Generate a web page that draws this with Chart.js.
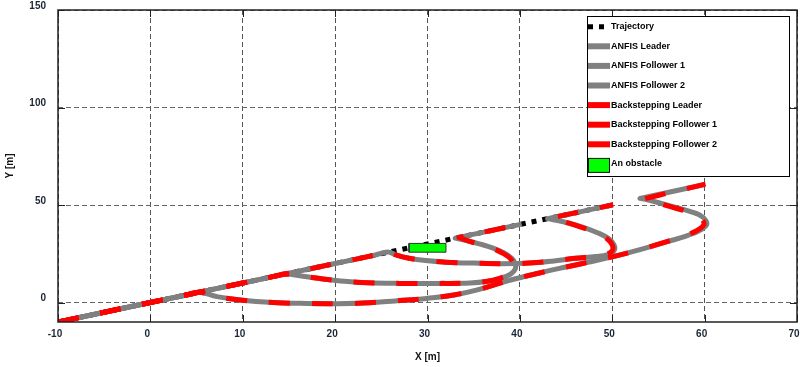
<!DOCTYPE html>
<html>
<head>
<meta charset="utf-8">
<script src="https://cdn.jsdelivr.net/npm/chart.js@4.4.1/dist/chart.umd.min.js"></script>
<style>
  html, body { margin: 0; padding: 0; background: #fff; }
  #wrap { width: 800px; height: 367px; }
</style>
</head>
<body>
<div id="wrap"><canvas id="chartPaths" width="800" height="367"></canvas></div>
<script>
const xTicks = [-10, 0, 10, 20, 30, 40, 50, 60, 70];
const yTicks = [0, 50, 100, 150];

const seriesNames = [
  'Trajectory', 'ANFIS Leader', 'ANFIS Follower 1', 'ANFIS Follower 2',
  'Backstepping Leader', 'Backstepping Follower 1', 'Backstepping Follower 2', 'An obstacle'
];

// desired path (y = x)
const trajectory = [[-10, -10], [50, 50]];

// ANFIS paths
const anfisLeader = [
  [-10, -10], [0, 0], [4, 4], [5.3, 5.3], [10, 10], [13.5, 13.5], [14.6, 14.6], [20, 20], [24.3, 24.3],
  [25.7, 25.9], [26.6, 24.4], [28, 22.7], [29.8, 21.5], [32, 20.7], [35, 20.2], [38, 19.9], [41, 20.2],
  [43.5, 21.2], [46, 22.7], [48.2, 23.6], [49.5, 24.6], [50.2, 26.6], [50.2, 29.5], [49.6, 32.8],
  [48.4, 35.8], [46.7, 38.8], [44.7, 41.4], [43, 43], [43, 43], [46.5, 46.5], [50, 50]
];
const anfisFollower1 = [
  [-10, -10], [0, 0], [4, 4], [5.3, 5.3], [10, 10], [13.5, 13.5], [14.6, 14.6], [16.5, 13.5],
  [18.7, 12.1], [21, 10.9], [23.5, 10.1], [27, 9.8], [31, 9.8], [34.6, 10], [36.5, 10.9], [37.9, 12.4],
  [39, 14.6], [39.5, 17.2], [39.5, 20], [39.1, 22.8], [38.3, 25.4], [37.1, 27.9], [35.6, 30.1],
  [34.2, 31.8], [33, 33], [33, 33], [36.6, 36.6], [40.2, 40.2]
];
const anfisFollower2 = [
  [-10, -10], [0, 0], [4, 4], [5.3, 5.3], [7.2, 3], [9.7, 1.3], [13.3, 0], [17, -0.5], [20, -0.6],
  [23, -0.3], [26.5, 0.8], [29.9, 2.1], [33, 4], [35.4, 6.5], [38.6, 11], [42, 15], [45, 18.2],
  [48.6, 21.9], [52.2, 26.1], [55.9, 31.1], [58.8, 35.5], [60.2, 39.7], [59.8, 43.8], [58.4, 46.7],
  [55.9, 50], [53.8, 52.7], [53, 53.4], [53, 53.4], [56.5, 56.9], [60, 60.5]
];

// Backstepping paths
const backLeader = [
  [-10, -10], [0, 0], [4, 4], [5.3, 5.3], [10, 10], [13.5, 13.5], [14.6, 14.6], [20, 20], [24.3, 24.3],
  [25.7, 25.9], [26.6, 24.4], [28, 22.7], [29.8, 21.5], [32, 20.7], [35, 20.2], [38, 19.9], [41, 20.2],
  [43.5, 21.2], [46, 22.7], [48.2, 23.6], [49.4, 24.7], [50, 26.6], [50, 29.5], [49.4, 32.8],
  [48.2, 35.8], [46.6, 38.7], [44.9, 41.3], [43.4, 43.4], [43.4, 43.4], [46.7, 46.7], [50.1, 50.1]
];
const backFollower1 = [
  [-10, -10], [0, 0], [4, 4], [5.3, 5.3], [10, 10], [13.5, 13.5], [14.6, 14.6], [16.5, 13.5],
  [18.7, 12.1], [21, 10.9], [23.5, 10.1], [27, 9.8], [31, 9.8], [34.6, 10], [36.5, 10.9], [37.8, 12.4],
  [38.9, 14.6], [39.3, 17.2], [39.3, 20], [38.9, 22.8], [38.1, 25.4], [37, 27.8], [35.6, 29.9],
  [34.4, 31.6], [33.4, 33.4], [33.4, 33.4], [36.8, 36.8], [40.3, 40.3]
];
const backFollower2 = [
  [-10, -10], [0, 0], [4, 4], [5.3, 5.3], [7.2, 3], [9.7, 1.3], [13.3, 0], [17, -0.5], [20, -0.6],
  [23, -0.3], [26.5, 0.8], [29.9, 2.1], [33, 4], [35.4, 6.5], [38.6, 11], [42, 15], [45, 18.2],
  [48.6, 21.9], [52.2, 26.1], [55.8, 31.1], [58.6, 35.6], [59.9, 39.8], [59.5, 43.7], [58.1, 46.6],
  [55.8, 49.8], [54, 52.4], [53.4, 53.1], [53.4, 53.1], [56.7, 56.9], [60.1, 60.7]
];

// obstacle outline
const obstacle = [[28, 25.8], [32, 25.8], [32, 30.3], [28, 30.3], [28, 25.8]];

const family = "'Liberation Sans', Arial, sans-serif";
const toPoints = arr => arr.map(p => ({ x: p[0], y: p[1] }));

function pathSet(name, data, color, dash, order) {
  return {
    label: name,
    data: toPoints(data),
    showLine: true,
    borderColor: color,
    backgroundColor: color,
    borderWidth: 5,
    borderDash: dash,
    borderCapStyle: 'butt',
    borderJoinStyle: 'round',
    tension: 0.4,
    pointRadius: 0,
    pointHoverRadius: 0,
    order: order
  };
}

const datasets = [
  Object.assign(pathSet(seriesNames[0], trajectory, '#000000', [5, 6], 10), { tension: 0 }),
  pathSet(seriesNames[1], anfisLeader, '#808080', [], 7),
  pathSet(seriesNames[2], anfisFollower1, '#808080', [], 6),
  pathSet(seriesNames[3], anfisFollower2, '#808080', [], 5),
  pathSet(seriesNames[4], backLeader, '#ff0000', [21, 22], 4),
  pathSet(seriesNames[5], backFollower1, '#ff0000', [21, 22], 3),
  pathSet(seriesNames[6], backFollower2, '#ff0000', [21, 22], 2),
  {
    label: seriesNames[7],
    data: toPoints(obstacle),
    showLine: true,
    fill: 'shape',
    borderColor: '#333333',
    backgroundColor: '#00ff00',
    borderWidth: 1,
    tension: 0,
    pointRadius: 0,
    order: 0
  }
];

// plot frame + small solid tick stubs
const framePlugin = {
  id: 'framePlugin',
  afterDatasetsDraw(chart) {
    const { ctx, chartArea: a, scales } = chart;
    ctx.save();
    ctx.strokeStyle = '#222';
    ctx.lineWidth = 1;
    ctx.beginPath();
    yTicks.forEach(v => {
      const py = Math.round(scales.y.getPixelForValue(v)) + 0.5;
      ctx.moveTo(a.left, py); ctx.lineTo(a.left + 7, py);
      ctx.moveTo(a.right, py); ctx.lineTo(a.right - 7, py);
    });
    xTicks.forEach(v => {
      const px = Math.round(scales.x.getPixelForValue(v)) + 0.5;
      ctx.moveTo(px, a.bottom); ctx.lineTo(px, a.bottom - 7);
      ctx.moveTo(px, a.top); ctx.lineTo(px, a.top + 7);
    });
    ctx.stroke();
    ctx.lineWidth = 1.5;
    ctx.strokeRect(a.left, a.top, a.right - a.left, a.bottom - a.top);
    ctx.restore();
  }
};

// boxed legend inside the plot
const boxLegend = {
  id: 'boxLegend',
  afterDraw(chart) {
    const ctx = chart.ctx;
    const x0 = 587, y0 = 16, w = 202, h = 160;
    ctx.save();
    ctx.fillStyle = '#fff';
    ctx.fillRect(x0, y0, w, h);
    ctx.strokeStyle = '#000';
    ctx.lineWidth = 1;
    ctx.strokeRect(x0 + 0.5, y0 + 0.5, w, h);
    ctx.font = 'bold 9px ' + family;
    ctx.textBaseline = 'middle';
    chart.data.datasets.forEach((ds, i) => {
      const cy = y0 + 10.7 + i * 19.6;
      if (i === 0) {
        ctx.strokeStyle = ds.borderColor;
        ctx.lineWidth = 5;
        ctx.setLineDash(ds.borderDash);
        ctx.beginPath();
        ctx.moveTo(588, cy); ctx.lineTo(606, cy);
        ctx.stroke();
        ctx.setLineDash([]);
      } else if (ds.fill === 'shape') {
        ctx.fillStyle = ds.backgroundColor;
        ctx.fillRect(588.5, cy - 5.5, 21, 14);
        ctx.strokeStyle = '#111';
        ctx.lineWidth = 1;
        ctx.strokeRect(588.5, cy - 5.5, 21, 14);
      } else {
        ctx.fillStyle = ds.borderColor;
        ctx.fillRect(588, cy - 3, 22, 6);
      }
      ctx.fillStyle = '#000';
      ctx.fillText(ds.label, 611, cy);
    });
    ctx.restore();
  }
};

const tickFont = { family: family, size: 10, weight: 'bold' };
const titleFont = { family: family, size: 10, weight: 'bold' };

new Chart(document.getElementById('chartPaths').getContext('2d'), {
  type: 'scatter',
  data: { datasets: datasets },
  options: {
    responsive: false,
    animation: false,
    layout: { padding: { left: 0, right: 3, top: 10, bottom: 0 } },
    plugins: {
      legend: { display: false },
      tooltip: { enabled: false }
    },
    scales: {
      x: {
        type: 'linear',
        min: -10,
        max: 70,
        afterBuildTicks: s => { s.ticks = xTicks.map(v => ({ value: v })); },
        afterFit: s => { s.height = 45; s.paddingLeft = 0; s.paddingRight = 0; },
        grid: { color: '#555', lineWidth: 1, drawTicks: false },
        border: { display: false, dash: [5, 3] },
        ticks: {
          font: tickFont, color: '#1b2535', padding: 6, labelOffset: -3,
          maxRotation: 0, autoSkip: false
        },
        title: {
          display: true, text: 'X [m]', font: titleFont, color: '#111',
          padding: { top: 0, bottom: 4 }
        }
      },
      y: {
        type: 'linear',
        min: -10,
        max: 150,
        afterBuildTicks: s => { s.ticks = yTicks.map(v => ({ value: v })); },
        afterFit: s => { s.width = 58; s.paddingTop = 0; s.paddingBottom = 0; },
        grid: { color: '#666', lineWidth: 1, drawTicks: false },
        border: { display: false, dash: [5, 3] },
        ticks: { font: tickFont, color: '#1b2535', padding: 12, labelOffset: -4 },
        title: {
          display: true, text: 'Y [m]', font: titleFont, color: '#111',
          padding: { top: 4, bottom: 0 }
        }
      }
    }
  },
  plugins: [framePlugin, boxLegend]
});
</script>
</body>
</html>
